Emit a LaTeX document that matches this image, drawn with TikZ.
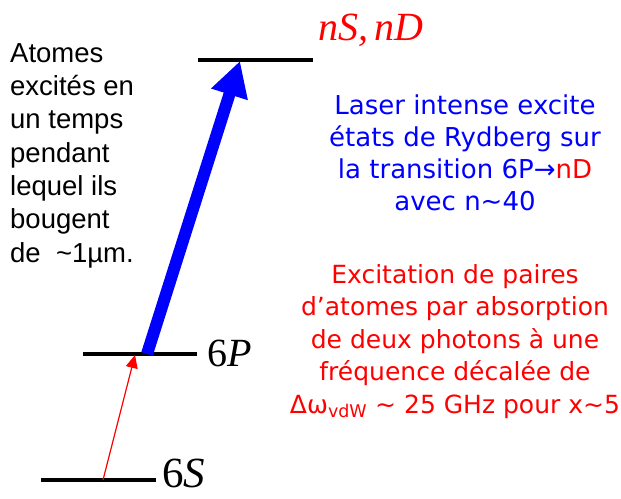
\documentclass[tikz,border=0pt]{standalone}
\usepackage{fontspec}
\setmainfont{Liberation Serif}
\newfontfamily\arialfont{Liberation Sans}
\newfontfamily\comicfont{DejaVu Sans}
\usetikzlibrary{arrows.meta}

\begin{document}
\begin{tikzpicture}[x=1pt,y=-1pt]
	\useasboundingbox (0,0) rectangle (621,498);
	\begin{scope}[every node/.style={inner sep=0pt}]
	% niveaux
	\draw[line width=3.5pt] (41,480) coordinate (S6l) -- (156,480) coordinate (S6r);
	\draw[line width=3.5pt] (83,354) coordinate (P6l) -- (197,354) coordinate (P6r);
	\draw[line width=3.5pt] (198,60) coordinate (Ryl) -- (313,60) coordinate (Ryr);
	
	\coordinate (S6a) at (103,480);
	\coordinate (P6a) at (135,355);
	\coordinate (P6b) at (147,354);
	\coordinate (Rya) at (240,61);
	
	% transitions
	\draw[red, line width=1.2pt, -{Triangle[width=12pt,length=13pt]}] (S6a) -- (P6a);
	\draw[blue, line width=12pt, -{Triangle[width=36pt,length=35pt]}] (P6b) -- (Rya);
	
	% etiquettes
	\node[anchor=base west, text=red, font=\fontsize{40}{40}\selectfont\itshape] (Rylab) at (318,40) {nS,\,nD};
	\node[anchor=base west, font=\fontsize{40}{40}\selectfont] (P6lab) at (207,366) {6\textit{P}};
	\node[anchor=base west, font=\fontsize{43}{43}\selectfont] (S6lab) at (162,487) {6\textit{S}};
	
	% textes
	\node[anchor=base west, align=left, font=\arialfont\fontsize{27.5}{33.3}\selectfont] (atomes) at (10,262)
		{Atomes\\excités en\\un temps\\pendant\\lequel ils\\bougent\\de\ \ \textasciitilde1µm.};
	\node[anchor=base, align=center, text=blue, font=\comicfont\fontsize{26}{31.7}\selectfont] (laser) at (465,210)
		{Laser intense excite\\états de Rydberg sur\\la transition 6P→\textcolor{red}{nD}\\avec n\textasciitilde40};
	\node[anchor=base, align=center, text=red, font=\comicfont\fontsize{25}{32.5}\selectfont] (paires) at (455,413)
		{Excitation de paires\\d’atomes par absorption\\de deux photons à une\\fréquence décalée de\\Δω\textsubscript{vdW} \textasciitilde{} 25 GHz pour x\textasciitilde5};
	\end{scope}
\end{tikzpicture}
\end{document}
